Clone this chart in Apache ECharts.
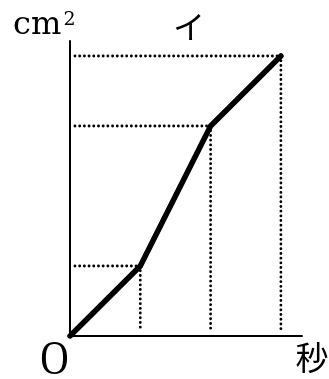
<!DOCTYPE html>
<html><head><meta charset="utf-8">
<script src="https://cdn.jsdelivr.net/npm/echarts@6/dist/echarts.min.js"></script>
<style>html,body{margin:0;padding:0;background:#fff}#c{width:329px;height:379px}</style>
</head><body><div id="c"></div>
<script>
const timeValues = [0, 1, 2, 3];
const areaValues = [0, 1, 3, 4];
const yUnitLabel = 'cm';
const yUnitSup = '2';
const xUnitLabel = '秒';
const originLabel = 'O';
const graphTitle = 'イ';

const chart = echarts.init(document.getElementById('c'), null, {renderer: 'canvas'});
const mainData = timeValues.map((t, i) => [t, areaValues[i]]);
const dotted = [];
const dotStyle = {color: '#000', width: 2.8, type: [0.1, 4.6], cap: 'round'};
for (let i = 1; i < timeValues.length; i++) {
  const x = timeValues[i], y = areaValues[i];
  dotted.push({type: 'line', data: [[0.07, y], [x, y]], symbol: 'none', silent: true, lineStyle: dotStyle, z: 1});
  dotted.push({type: 'line', data: [[x, y], [x, 0.07]], symbol: 'none', silent: true, lineStyle: dotStyle, z: 1});
}
const serif = '"DejaVu Serif", serif';
const lserif = '"Liberation Serif", serif';
const cjk = '"Noto Sans CJK JP", sans-serif';
chart.setOption({
  animation: false,
  grid: {left: 70, top: 41, width: 232, height: 295},
  xAxis: {type: 'value', min: 0, max: 3.3, axisLine: {show: true, onZero: false, lineStyle: {color: '#000', width: 2}},
    axisTick: {show: false}, axisLabel: {show: false}, splitLine: {show: false}},
  yAxis: {type: 'value', min: 0, max: 4.214, axisLine: {show: true, onZero: false, lineStyle: {color: '#000', width: 2}},
    axisTick: {show: false}, axisLabel: {show: false}, splitLine: {show: false}},
  series: dotted.concat([{type: 'line', data: mainData, symbol: 'none', z: 5,
    lineStyle: {color: '#000', width: 5.5, cap: 'round', join: 'round'}}]),
  graphic: [
    {type: 'text', x: 13, y: 25.5, style: {text: yUnitLabel, fontSize: 32, fontFamily: serif, fill: '#000', align: 'left', verticalAlign: 'middle'}},
    {type: 'text', x: 63.5, y: 20, style: {text: yUnitSup, fontSize: 19, fontFamily: serif, fill: '#000', align: 'left', verticalAlign: 'middle'}},
    {type: 'text', x: 189, y: 27, style: {text: graphTitle, fontSize: 32, fontFamily: cjk, fill: '#000', align: 'center', verticalAlign: 'middle'}},
    {type: 'text', x: 54.5, y: 361, scaleX: 0.82, style: {text: originLabel, fontSize: 48, fontFamily: lserif, fill: '#000', align: 'center', verticalAlign: 'middle'}},
    {type: 'text', x: 312, y: 357, style: {text: xUnitLabel, fontSize: 33, fontFamily: cjk, fill: '#000', align: 'center', verticalAlign: 'middle'}}
  ]
});
</script></body></html>
